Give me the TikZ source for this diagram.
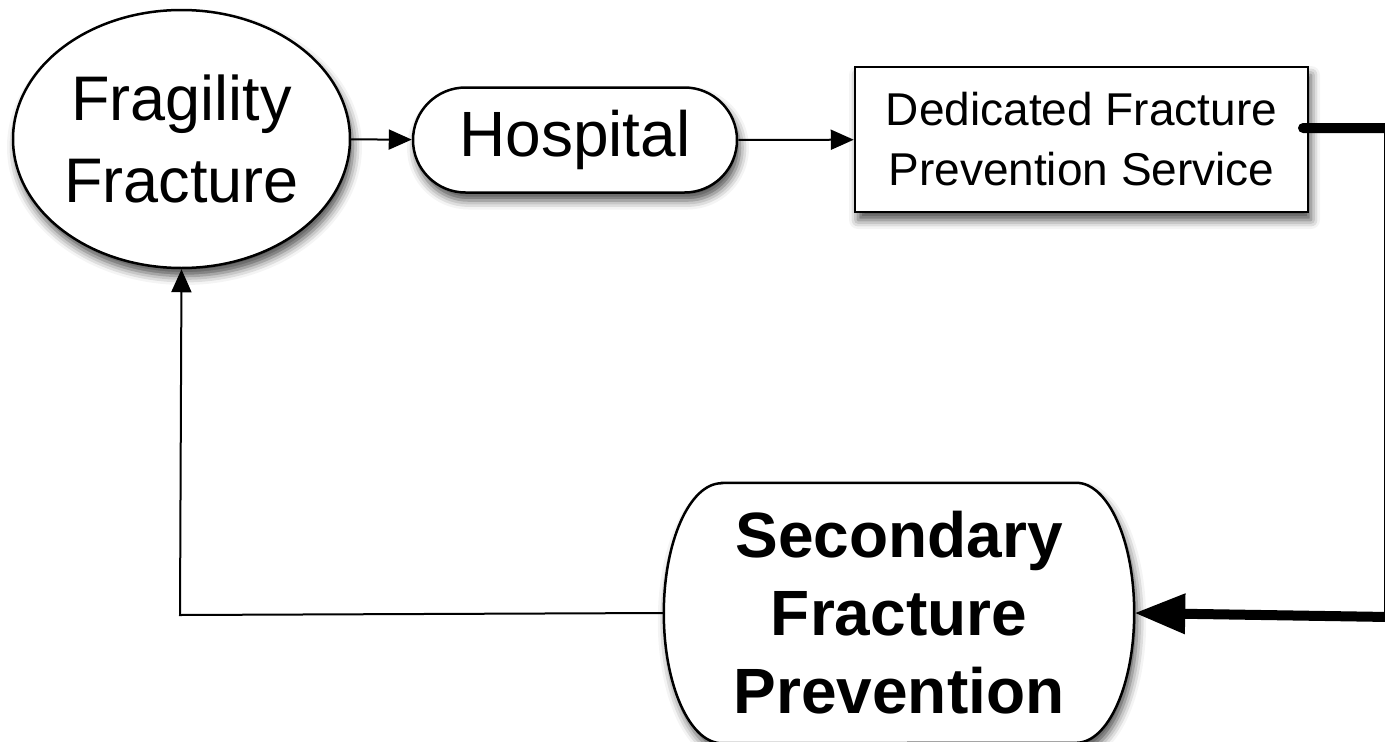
\documentclass[tikz,border=0pt]{standalone}
\usepackage{fontspec}
\setmainfont{Liberation Sans}
\usetikzlibrary{arrows.meta,shapes.geometric,shapes.misc,shadows.blur,backgrounds}
\begin{document}
\begin{tikzpicture}[x=1pt,y=-1pt,>={Triangle[length=23pt,width=20pt]},
  boxshadow/.style={blur shadow={shadow xshift=3pt,shadow yshift=-8pt,shadow blur radius=9pt,shadow opacity=70}},
  unit/.style={draw,line width=2.5pt,fill=white,boxshadow,inner sep=0pt,align=center},
  link/.style={->,line width=2pt},
  bold link/.style={-{Triangle[length=51pt,width=38pt]},line width=10pt,line cap=round}]
\clip (0,0) rectangle (1385,742);
\node[unit,ellipse,minimum width=337pt,minimum height=258pt,font=\fontsize{63}{82}\selectfont] (frag) at (181.5,139) {Fragility\\Fracture};
\node[unit,rounded rectangle,minimum width=324pt,minimum height=105pt,font=\fontsize{64}{70}\selectfont] (hosp) at (575,140) {Hospital};
\node[unit,rectangle,minimum width=453pt,minimum height=145pt,font=\fontsize{46}{60}\selectfont] (dfp) at (1081.5,139.5) {Dedicated Fracture\\Prevention Service};
\node[inner sep=0pt,align=center,minimum width=470pt,minimum height=260pt,font=\fontsize{64}{78}\bfseries\selectfont] (sfp) at (899,613) {Secondary\\Fracture\\Prevention};
% outline of the secondary prevention node
\begin{scope}[on background layer]
\path[draw,line width=2.5pt,fill=white,boxshadow]
  ([xshift=58pt]sfp.north west) -- ([xshift=-58pt]sfp.north east)
  arc[start angle=90,end angle=-90,x radius=58pt,y radius=130pt]
  -- ([xshift=58pt]sfp.south west)
  arc[start angle=-90,end angle=-270,x radius=58pt,y radius=130pt] -- cycle;
\end{scope}
\coordinate (dfpout) at (1303,128);
\coordinate (turn) at (180,615);
\draw[link] (frag) -- (hosp);
\draw[link] (hosp) -- (dfp);
\draw[bold link] (dfpout) -- (1389,128) -- (1389,617) -- (sfp.east);
\draw[link] (sfp.west) -- (turn) -- (frag.south);
\end{tikzpicture}
\end{document}
